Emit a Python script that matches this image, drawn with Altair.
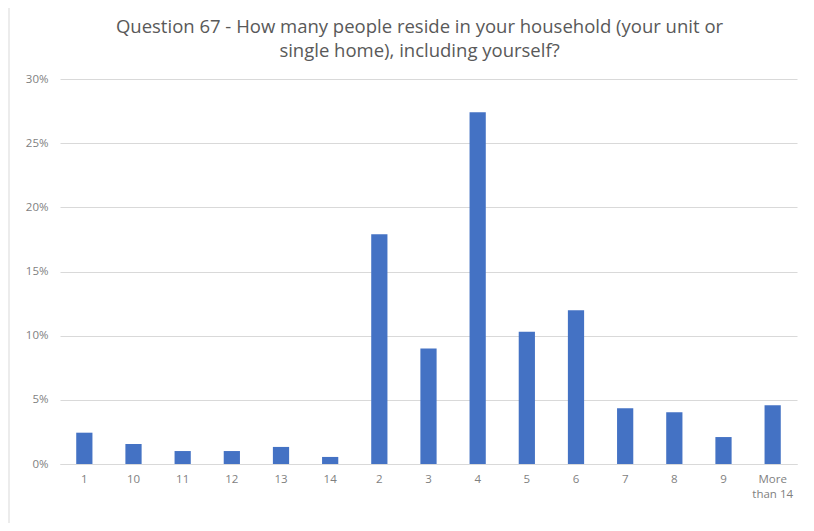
import altair as alt
import pandas as pd

categories = ["1", "10", "11", "12", "13", "14", "2", "3", "4", "5", "6", "7", "8", "9", "More than 14"]
values = [2.44, 1.56, 1.01, 1.01, 1.33, 0.55, 17.9, 9.0, 27.4, 10.3, 11.98, 4.34, 4.03, 2.1, 4.57]
y_ticks = [0, 5, 10, 15, 20, 25, 30]
title_lines = ["Question 67 - How many people reside in your household (your unit or",
               "single home), including yourself?"]

df = pd.DataFrame({"cat": categories, "val": [v / 100 for v in values]})

font = "Open Sans"
grey = "#595959"
label_grey = "#7f7f7f"

bars = (
    alt.Chart(df)
    .mark_bar(color="#4472C4")
    .encode(
        x=alt.X(
            "cat:N",
            sort=categories,
            title=None,
            scale=alt.Scale(paddingInner=0.67, paddingOuter=0.33),
            axis=alt.Axis(
                labelAngle=0,
                labelColor=label_grey,
                labelFont=font,
                labelFontSize=11.5,
                ticks=False,
                domainColor="#d9d9d9",
                labelPadding=9,
                labelLineHeight=15,
                labelExpr="datum.value == 'More than 14' ? ['More', 'than 14'] : datum.value",
            ),
        ),
        y=alt.Y(
            "val:Q",
            title=None,
            scale=alt.Scale(domain=[0, 0.30]),
            axis=alt.Axis(
                values=[t / 100 for t in y_ticks],
                format=".0%",
                labelColor=label_grey,
                labelFont=font,
                labelFontSize=11.5,
                ticks=False,
                domain=False,
                gridColor="#d9d9d9",
                labelPadding=12,
            ),
        ),
    )
)

border = (
    alt.Chart(pd.DataFrame({"k": [0]}))
    .mark_rect(fill="transparent", stroke="#d9d9d9", strokeWidth=1)
    .encode(
        x=alt.value(-51),
        x2=alt.value(760),
        y=alt.value(-73),
        y2=alt.value(460),
    )
)

title1 = (
    alt.Chart(pd.DataFrame({"t": [title_lines[0]]}))
    .mark_text(font=font, fontSize=18.5, color=grey, align="center", baseline="middle")
    .encode(text="t:N", x=alt.value(359.5), y=alt.value(-52))
)
title2 = (
    alt.Chart(pd.DataFrame({"t": [title_lines[1]]}))
    .mark_text(font=font, fontSize=18.5, color=grey, align="center", baseline="middle")
    .encode(text="t:N", x=alt.value(359.5), y=alt.value(-28))
)

chart = (
    alt.layer(border, bars, title1, title2)
    .properties(
        width=737,
        height=385,
        autosize=alt.AutoSizeParams(type="none"),
        padding={"left": 52, "top": 71, "right": 9, "bottom": 59},
        background="white",
    )
    .configure_view(stroke=None)
)

chart.save("out.html", embed_options={"renderer": "svg", "actions": False})
